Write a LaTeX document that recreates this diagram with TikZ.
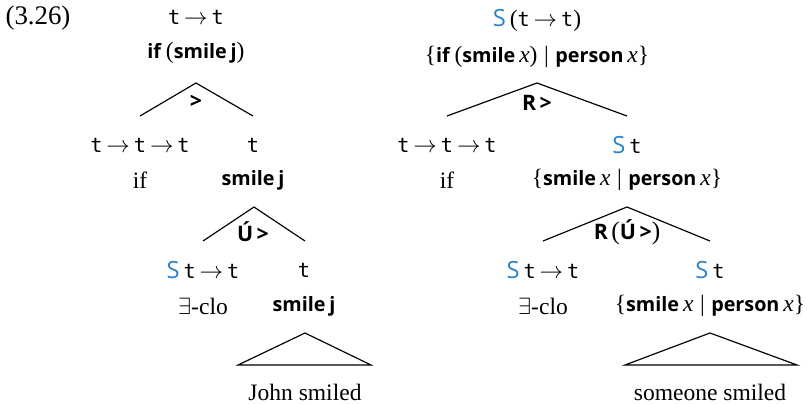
\documentclass[tikz,border=0pt]{standalone}
\usepackage{fontspec}
\setmainfont{Liberation Serif}
\setsansfont{Open Sans}[Scale=0.84]
\setmonofont{DejaVu Sans Mono}[Scale=0.86]
\usetikzlibrary{positioning}
\definecolor{sblue}{RGB}{45,130,200}
\newcommand{\ty}[1]{\texttt{#1}}
\newcommand{\bsf}[1]{\textsf{\bfseries #1}}
\newcommand{\Sm}{{\fontsize{12}{14}\selectfont\textsf{\color{sblue}S}}\,}
\newcommand{\ar}{\,$\rightarrow$\,}
\newcommand{\rp}[1]{{\rmfamily\mdseries #1}}
\tikzset{
  lbl/.style={inner sep=1pt,font=\normalsize},
  rule/.style={inner sep=1pt,font=\fontsize{10.8}{12}\selectfont\sffamily\bfseries},
  br/.style={line width=0.5pt},
}
\begin{document}
\begin{tikzpicture}[x=0.425pt,y=-0.425pt]
  \useasboundingbox (0,0) rectangle (807,404);
  \node[lbl,font=\fontsize{11.4}{13}\selectfont] (num) at (38,18) {(3.26)};
  % left tree
  \node[lbl] (lt) at (196,17) {\ty{t}\ar\ty{t}};
  \node[lbl] (lm) at (196,53) {\bsf{if}\,(\bsf{smile}\,\bsf{j})};
  \coordinate (la) at (196,83);
  \coordinate (lal) at (140,116);
  \coordinate (lar) at (253,116);
  \node[rule] (lr) at (196,102) {>};
  \draw[br] (lal) -- (la) -- (lar);
  \node[lbl] (ift) at (140,145) {\ty{t}\ar\ty{t}\ar\ty{t}};
  \node[lbl] (sjt) at (253,145) {\ty{t}};
  \node[lbl] (ifm) at (140,180) {if};
  \node[lbl] (sjm) at (253,180) {\bsf{smile}\,\bsf{j}};
  \coordinate (lb) at (254,207);
  \coordinate (lbl) at (203,241);
  \coordinate (lbr) at (305,241);
  \node[rule] (lr2) at (253,232) {Ú\,>};
  \draw[br] (lbl) -- (lb) -- (lbr);
  \node[lbl] (ect) at (203,270) {\Sm\ty{t}\ar\ty{t}};
  \node[lbl] (jt) at (304,270) {\ty{t}};
  \node[lbl] (ecm) at (203,306) {$\exists$-clo};
  \node[lbl] (jm) at (304,306) {\bsf{smile}\,\bsf{j}};
  \coordinate (lc) at (305,333);
  \coordinate (lcl) at (238,365);
  \coordinate (lcr) at (371,365);
  \draw[br] (lcl) -- (lc) -- (lcr) -- cycle;
  \node[lbl] (js) at (305,392) {John smiled};
  % right tree
  \node[lbl] (rt) at (537,20) {\Sm(\ty{t}\ar\ty{t})};
  \node[lbl] (rm) at (537,57) {\{\bsf{if}\,(\bsf{smile}\,\textit{x})\;|\;\bsf{person}\,\textit{x}\}};
  \coordinate (ra) at (537,83);
  \coordinate (ral) at (447,116);
  \coordinate (rar) at (627,116);
  \node[rule] (rr) at (537,103) {R\,>};
  \draw[br] (ral) -- (ra) -- (rar);
  \node[lbl] (rift) at (447,145) {\ty{t}\ar\ty{t}\ar\ty{t}};
  \node[lbl] (rst) at (627,145) {\Sm\ty{t}};
  \node[lbl] (rifm) at (447,180) {if};
  \node[lbl] (rsm) at (627,180) {\{\bsf{smile}\,\textit{x}\;|\;\bsf{person}\,\textit{x}\}};
  \coordinate (rb) at (627,207);
  \coordinate (rbl) at (543,241);
  \coordinate (rbr) at (710,241);
  \node[rule] (rr2) at (627,232) {R\,\rp{(}Ú\,>\rp{)}};
  \draw[br] (rbl) -- (rb) -- (rbr);
  \node[lbl] (rect) at (543,270) {\Sm\ty{t}\ar\ty{t}};
  \node[lbl] (rpt) at (710,270) {\Sm\ty{t}};
  \node[lbl] (recm) at (543,306) {$\exists$-clo};
  \node[lbl] (rpm) at (710,306) {\{\bsf{smile}\,\textit{x}\;|\;\bsf{person}\,\textit{x}\}};
  \coordinate (rc) at (710,333);
  \coordinate (rcl) at (625,365);
  \coordinate (rcr) at (797,365);
  \draw[br] (rcl) -- (rc) -- (rcr) -- cycle;
  \node[lbl] (ss) at (710,392) {someone smiled};
\end{tikzpicture}
\end{document}
